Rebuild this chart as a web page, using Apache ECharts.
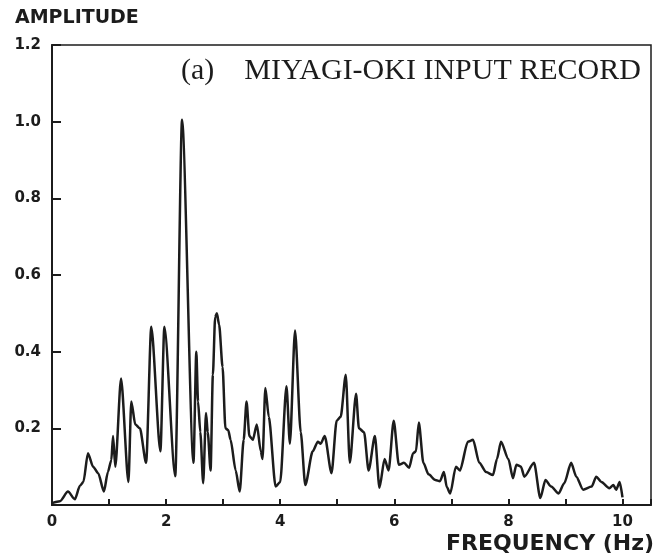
<!DOCTYPE html>
<html>
<head>
<meta charset="utf-8">
<style>html,body{margin:0;padding:0;background:#fff;}#c{width:672px;height:559px;}</style>
<script src="https://cdn.jsdelivr.net/npm/echarts@6/dist/echarts.min.js"></script>
</head>
<body>
<div id="c"></div>
<script>
var freq = [0.00,0.14,0.28,0.40,0.49,0.55,0.63,0.72,0.81,0.91,0.98,1.04,1.07,1.11,1.21,1.34,1.39,1.46,1.54,1.65,1.74,1.90,1.97,2.16,2.28,2.48,2.53,2.56,2.60,2.65,2.70,2.73,2.78,2.82,2.86,2.89,2.93,2.99,3.04,3.09,3.13,3.22,3.29,3.36,3.41,3.46,3.52,3.59,3.66,3.69,3.74,3.80,3.92,4.00,4.11,4.17,4.26,4.36,4.44,4.57,4.66,4.71,4.78,4.90,4.99,5.06,5.15,5.22,5.33,5.38,5.47,5.55,5.66,5.74,5.83,5.90,5.99,6.08,6.17,6.26,6.33,6.38,6.43,6.51,6.60,6.72,6.80,6.87,6.92,6.98,7.08,7.15,7.29,7.38,7.49,7.61,7.73,7.80,7.87,8.00,8.08,8.14,8.22,8.28,8.45,8.56,8.65,8.75,8.88,8.98,9.10,9.19,9.31,9.46,9.54,9.63,9.77,9.84,9.89,9.95,10.00];
var amplitude = [0.005,0.01,0.035,0.015,0.05,0.06,0.135,0.10,0.083,0.035,0.086,0.117,0.18,0.10,0.33,0.06,0.27,0.21,0.20,0.11,0.465,0.14,0.465,0.075,1.005,0.11,0.40,0.27,0.19,0.057,0.24,0.19,0.09,0.34,0.49,0.50,0.47,0.36,0.20,0.195,0.17,0.09,0.035,0.17,0.27,0.18,0.17,0.21,0.14,0.12,0.305,0.23,0.048,0.06,0.31,0.16,0.455,0.19,0.052,0.14,0.165,0.16,0.18,0.083,0.22,0.23,0.34,0.11,0.29,0.20,0.19,0.09,0.18,0.045,0.12,0.09,0.22,0.105,0.11,0.097,0.135,0.14,0.215,0.11,0.08,0.065,0.062,0.086,0.047,0.03,0.10,0.09,0.165,0.17,0.11,0.086,0.078,0.12,0.165,0.12,0.07,0.105,0.10,0.074,0.11,0.018,0.065,0.048,0.03,0.057,0.11,0.074,0.04,0.048,0.074,0.06,0.044,0.052,0.04,0.06,0.02];
var xTickLabels = ['0','2','4','6','8','10'];
var yTickLabels = ['0.2','0.4','0.6','0.8','1.0','1.2'];
var titleText = '(a)    MIYAGI-OKI INPUT RECORD';
var yAxisTitle = 'AMPLITUDE';
var xAxisTitle = 'FREQUENCY (Hz)';

var data = freq.map(function(f, i){ return [f, amplitude[i]]; });
var ink = '#1c1c1c';
var chart = echarts.init(document.getElementById('c'), null, {renderer:'canvas'});
chart.setOption({
  animation: false,
  backgroundColor: '#fff',
  grid: { left: 52, right: 21, top: 45, bottom: 54, show: true, borderColor: ink, borderWidth: 1.5, backgroundColor: 'transparent' },
  title: {
    text: titleText, left: 176, top: 51,
    textStyle: { fontFamily: 'Liberation Serif', fontWeight: 'normal', fontSize: 30, color: ink }
  },
  graphic: [
    { type: 'text', left: 15, top: 9, style: { text: yAxisTitle, font: 'bold 19px "DejaVu Sans"', fill: ink } },
    { type: 'text', left: 446, top: 533, style: { text: xAxisTitle, font: 'bold 22px "DejaVu Sans"', fill: ink } }
  ],
  xAxis: {
    type: 'value', min: 0, max: 10.5, interval: 1,
    axisLine: { show: true, lineStyle: { color: ink, width: 2 } },
    axisTick: { show: true, inside: true, length: 6, lineStyle: { color: ink, width: 2 } },
    splitLine: { show: false },
    axisLabel: {
      margin: 10, color: ink, fontFamily: 'DejaVu Sans', fontWeight: 'bold', fontSize: 15,
      formatter: function(v){ var s = String(v); return xTickLabels.indexOf(s) >= 0 ? s : ''; }
    }
  },
  yAxis: {
    type: 'value', min: 0, max: 1.2, interval: 0.2,
    axisLine: { show: true, lineStyle: { color: ink, width: 2 } },
    axisTick: { show: true, inside: true, length: 9, lineStyle: { color: ink, width: 2 } },
    splitLine: { show: false },
    axisLabel: {
      margin: 11, color: ink, fontFamily: 'DejaVu Sans', fontWeight: 'bold', fontSize: 15,
      formatter: function(v){ var s = v.toFixed(1); return yTickLabels.indexOf(s) >= 0 ? s : ''; }
    }
  },
  series: [{
    type: 'line', data: data, showSymbol: false, symbol: 'none',
    smooth: 0.25, smoothMonotone: 'x',
    lineStyle: { color: ink, width: 2.5 }
  }]
});
</script>
</body>
</html>
